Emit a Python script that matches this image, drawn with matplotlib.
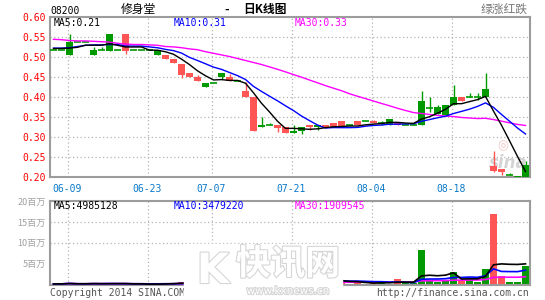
import numpy as np
import pandas as pd
import matplotlib
matplotlib.use("Agg")
import matplotlib.pyplot as plt
import matplotlib.patheffects as pe

# daily candles for 08200 (index 0 = first bar shown)
opens = [0.518, 0.518, 0.507, 0.538, 0.538, 0.507, 0.518, 0.517, 0.518, 0.558,
         0.518, 0.518, 0.518, 0.507, 0.507, 0.497, 0.482, 0.460, 0.450, 0.425,
         0.435, 0.451, 0.451, 0.440, 0.416, 0.400, 0.325, 0.331, 0.330, 0.326,
         0.310, 0.315, 0.330, 0.325, 0.330, 0.336, 0.340, 0.331, 0.340, 0.340,
         0.341, 0.336, 0.330, 0.337, 0.331, 0.331, 0.330, 0.374, 0.358, 0.355,
         0.380, 0.401, 0.400, 0.400, 0.400, 0.229, 0.221, 0.206, 0.201, 0.200]
closes = [0.518, 0.518, 0.539, 0.538, 0.538, 0.518, 0.518, 0.558, 0.518, 0.517,
          0.518, 0.518, 0.518, 0.518, 0.497, 0.487, 0.457, 0.450, 0.440, 0.435,
          0.435, 0.461, 0.440, 0.440, 0.400, 0.315, 0.331, 0.331, 0.324, 0.310,
          0.316, 0.325, 0.325, 0.330, 0.325, 0.326, 0.329, 0.331, 0.330, 0.340,
          0.335, 0.336, 0.345, 0.331, 0.331, 0.331, 0.390, 0.374, 0.375, 0.380,
          0.401, 0.390, 0.400, 0.400, 0.420, 0.217, 0.214, 0.206, 0.204, 0.231]
highs = [0.518, 0.518, 0.558, 0.538, 0.538, 0.525, 0.525, 0.558, 0.518, 0.558,
         0.518, 0.518, 0.518, 0.518, 0.507, 0.497, 0.482, 0.460, 0.455, 0.435,
         0.435, 0.461, 0.458, 0.440, 0.439, 0.400, 0.350, 0.336, 0.330, 0.326,
         0.330, 0.325, 0.330, 0.330, 0.330, 0.336, 0.340, 0.331, 0.340, 0.340,
         0.344, 0.340, 0.345, 0.337, 0.331, 0.336, 0.416, 0.400, 0.380, 0.380,
         0.432, 0.401, 0.411, 0.411, 0.461, 0.265, 0.221, 0.212, 0.204, 0.241]
lows = [0.518, 0.518, 0.507, 0.538, 0.538, 0.507, 0.518, 0.517, 0.518, 0.508,
        0.518, 0.518, 0.518, 0.507, 0.497, 0.487, 0.449, 0.450, 0.440, 0.425,
        0.435, 0.445, 0.440, 0.440, 0.400, 0.315, 0.325, 0.331, 0.314, 0.310,
        0.310, 0.309, 0.318, 0.318, 0.325, 0.326, 0.329, 0.331, 0.330, 0.340,
        0.335, 0.331, 0.330, 0.331, 0.331, 0.331, 0.330, 0.364, 0.358, 0.355,
        0.380, 0.390, 0.400, 0.394, 0.400, 0.214, 0.206, 0.206, 0.201, 0.200]
# volume in millions of shares (bars under the watermark are estimates)
volumes = [0.20, 0.20, 0.45, 0.05, 0.20, 0.40, 0.15, 0.45, 0.15, 0.20,
           0.05, 0.15, 0.15, 0.15, 0.40, 0.40, 0.60, 0.50, 0.40, 0.60,
           0.30, 0.50, 0.40, 0.30, 0.80, 1.50, 0.90, 0.60, 0.70, 0.80,
           1.10, 1.00, 1.20, 1.00, 1.10, 1.00, 0.60, 0.20, 0.70, 0.20,
           0.30, 0.90, 0.20, 1.30, 0.30, 0.30, 8.40, 1.00, 0.70, 1.00,
           3.10, 1.00, 1.20, 0.70, 3.86, 17.00, 2.10, 0.70, 0.55, 4.55]

# moving-average values before each window fills
ma5_head = [0.522, 0.522, 0.523, 0.525]
ma10_head = [0.523, 0.523, 0.524, 0.527, 0.530, 0.531, 0.531, 0.532, 0.532]
ma30_head = [0.545, 0.544, 0.542, 0.541, 0.541, 0.540, 0.539, 0.538, 0.535, 0.533,
             0.532, 0.532, 0.531, 0.530, 0.527, 0.526, 0.524, 0.521, 0.519, 0.514,
             0.510, 0.506, 0.502, 0.497, 0.492, 0.487, 0.482, 0.476, 0.470]

# legend texts as printed on the chart
price_ma_text = ["MA5:0.21", "MA10:0.31", "MA30:0.33"]
vol_ma_text = ["MA5:4985128", "MA10:3479220", "MA30:1909545"]

tick_idx = [2, 12, 20, 30, 40, 50]
tick_labels = ["06-09", "06-23", "07-07", "07-21", "08-04", "08-18"]
price_ticks = [0.20, 0.25, 0.30, 0.35, 0.40, 0.45, 0.50, 0.55, 0.60]
vol_ticks = [5, 10, 15, 20]

GREEN = "#009a00"
RED = "#ff5555"
BLUE_TXT = "#0a78c8"
GRID = "#b4b4b4"
FRAME = "#9c9c9c"
MA_COLORS = ["black", "#0000ff", "#ff00ff"]
MONO = "DejaVu Sans Mono"
CJK = ["Noto Sans CJK SC", "DejaVu Sans"]

W, H = 545, 300


def fx(px):
    return px / W


def fy(py):
    return 1 - py / H


def moving(values, n, head=None):
    s = pd.Series(values, dtype=float)
    if head is None:
        return s.rolling(n, min_periods=1).mean().to_numpy()
    out = s.rolling(n).mean().to_numpy()
    out[:n - 1] = head
    return out


o = np.array(opens)
c = np.array(closes)
hi = np.array(highs)
lo = np.array(lows)
vol = np.array(volumes)
x = np.arange(len(c))
up = c >= o
colors = np.where(up, GREEN, RED)

ma5 = moving(closes, 5, ma5_head)
ma10 = moving(closes, 10, ma10_head)
ma30 = moving(closes, 30, ma30_head)
vma5 = moving(volumes, 5)
vma10 = moving(volumes, 10)
vma30 = moving(volumes, 30)

fig = plt.figure(figsize=(W / 100, H / 100), dpi=100)
ax1 = fig.add_axes([fx(50), fy(177.3), fx(479.5), 160 / H])
ax2 = fig.add_axes([fx(50), fy(284.7), fx(479.5), 83.7 / H])

xlim = (-0.4375, 59.5)
grid_x = np.array(tick_idx) - 0.25

for ax in (ax1, ax2):
    ax.set_xlim(*xlim)
    for s in ax.spines.values():
        s.set_color(FRAME)
        s.set_linewidth(1.5)
    ax.tick_params(length=0)
    for gx in grid_x:
        ax.axvline(gx, color=GRID, lw=0.9, ls=(0, (1, 2)), zorder=0)

# --- price panel ---
ax1.set_ylim(0.20, 0.60)
for p in price_ticks[1:-1]:
    ax1.axhline(p, color=GRID, lw=0.9, ls=(0, (1, 2)), zorder=0)

# sina watermark behind the candles
ax1.text(0.955, 0.09, "sina", transform=ax1.transAxes, ha="center", va="center",
         fontsize=12, fontstyle="italic", fontweight="bold", color="#d4d4d4", zorder=1)
ax1.text(0.945, 0.2, "◎", transform=ax1.transAxes, ha="center", va="center",
         fontsize=9, color="#f2c4c4", zorder=1)

ax1.vlines(x, lo, hi, colors=colors, lw=1, zorder=2)
body = np.abs(c - o)
is_body = body > 0.0005
ax1.bar(x[is_body], body[is_body], bottom=np.minimum(o, c)[is_body], width=0.88,
        color=colors[is_body], lw=0, zorder=3)
ax1.hlines(c[~is_body], x[~is_body] - 0.44, x[~is_body] + 0.44,
           colors=colors[~is_body], lw=1.2, zorder=3)

for line, col in zip((ma30, ma10, ma5), MA_COLORS[::-1]):
    ax1.plot(x, line, color=col, lw=1, zorder=4)

ax1.set_yticks(price_ticks)
ax1.set_yticklabels([f"{p:.2f}" for p in price_ticks], family=MONO, fontsize=7,
                    color="red")
ax1.tick_params(axis="y", pad=3)
ax1.set_xticks(grid_x)
ax1.set_xticklabels(tick_labels, family=MONO, fontsize=7, color=BLUE_TXT)
ax1.tick_params(axis="x", pad=5)

for px, txt, col in zip((54, 174, 295), price_ma_text, MA_COLORS):
    fig.text(fx(px), fy(23.3), txt, family=MONO, fontsize=7, color=col, va="center")

# --- volume panel ---
ax2.set_ylim(0, 20)
for v in (10, 15):
    ax2.axhline(v, color=GRID, lw=0.9, ls=(0, (1, 2)), zorder=0)
ax2.bar(x, vol, width=0.88, color=colors, lw=0, zorder=2)
for line, col in zip((vma30, vma10, vma5), MA_COLORS[::-1]):
    ax2.plot(x, line, color=col, lw=1.2, zorder=3)
ax2.set_yticks(vol_ticks)
ax2.set_yticklabels([f"{v}百万" for v in vol_ticks], family=CJK, fontsize=6.5,
                    color="#a0a0a0")
ax2.tick_params(axis="y", pad=3)
ax2.set_xticks([])

for px, txt, col in zip((54, 174, 295), vol_ma_text, MA_COLORS):
    fig.text(fx(px), fy(206), txt, family=MONO, fontsize=7, color=col, va="center")

# --- header / footer ---
fig.text(fx(50), fy(11), "08200", family=MONO, fontsize=7, va="center")
fig.text(fx(121), fy(9.5), "修身堂", family=CJK, fontsize=8.5, va="center")
fig.text(fx(223), fy(9.5), "-", family=MONO, fontsize=8, va="center", fontweight="bold")
fig.text(fx(243), fy(9.5), "日K线图", family=CJK, fontsize=8.5, va="center",
         fontweight="bold")
fig.text(fx(528), fy(9.5), "绿涨红跌", family=CJK, fontsize=8.5, va="center",
         ha="right", color="#777777")
fig.text(fx(50), fy(292.5), "Copyright 2014 SINA.COM", family=MONO, fontsize=7,
         va="center", color="#555555")
fig.text(fx(529), fy(292.5), "http://finance.sina.com.cn", family=MONO, fontsize=7,
         va="center", ha="right", color="#555555")

# kxnews watermark covering the middle of the volume panel
fig.patches.append(plt.Rectangle((fx(184), fy(300)), fx(158), 56 / H,
                                 transform=fig.transFigure, color="white", zorder=5))
halo = [pe.withStroke(linewidth=1.6, foreground="#d6d6d6")]
fig.text(fx(213), fy(271), "K", fontsize=30, fontweight="bold", color="white",
         ha="center", va="center", path_effects=halo, zorder=6)
fig.text(fx(288), fy(264), "快讯网", family=CJK, fontsize=25, fontweight="bold",
         color="white", ha="center", va="center", path_effects=halo, zorder=6)
fig.text(fx(288), fy(291), "www.kxnews.cn", fontsize=7.5, color="white",
         ha="center", va="center", path_effects=halo, zorder=6)

fig.savefig("out.png", dpi=100)
